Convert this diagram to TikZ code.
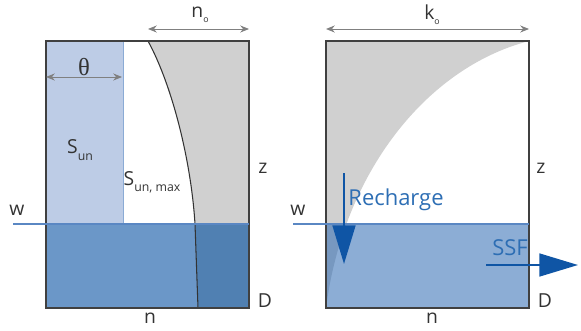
\documentclass[tikz,border=0pt]{standalone}
\usepackage{fontspec}
\setmainfont{Open Sans}
\newfontfamily\greekfont{Liberation Serif}
\usetikzlibrary{arrows.meta,positioning,calc}

\definecolor{soilgray}{RGB}{208,208,208}
\definecolor{unsat}{RGB}{189,204,230}
\definecolor{satlight}{RGB}{107,151,200}
\definecolor{satdark}{RGB}{80,128,178}
\definecolor{wtrans}{RGB}{46,106,179}
\definecolor{wline}{RGB}{90,135,195}
\definecolor{flowblue}{RGB}{15,85,165}
\definecolor{txtblue}{RGB}{45,110,180}

\begin{document}
\begin{tikzpicture}[
  x=0.02cm, y=-0.02cm,
  every node/.style={font=\fontsize{11}{13}\selectfont, text=black!80, inner sep=1pt},
  box/.style={draw=black!75, line width=0.6pt},
  dim/.style={{Stealth[length=5pt,width=4pt]}-{Stealth[length=5pt,width=4pt]}, gray, line width=0.5pt},
  wt/.style={wline, line width=0.6pt},
  flow/.style={-{Triangle[length=22pt,width=13pt]}, flowblue, line width=1.2pt},
  flowlbl/.style={font=\fontsize{12.5}{14}\selectfont, text=txtblue},
]
  \useasboundingbox (0,0) rectangle (581,331);

  % Left column
  \coordinate (ltl) at (46,41);
  \coordinate (ltr) at (249,41);
  \coordinate (lbr) at (249,308);
  \coordinate (lbl) at (46,308);
  \fill[unsat] (46,41) rectangle (123,224);
  \draw[wline!70, line width=0.5pt] (123,41) -- (123,224);
  \fill[soilgray] (148,41) .. controls (172,85) and (191,160) .. (195,224)
    -- (249,224) -- (249,41) -- cycle;
  \fill[satlight] (46,224) rectangle (249,308);
  \fill[satdark] (195,224) -- (198,308) -- (249,308) -- (249,224) -- cycle;
  \draw[black!80, line width=0.6pt] (148,41) .. controls (172,85) and (191,160) .. (195,224)
    -- (198,308);
  \draw[box] (ltl) rectangle (lbr);
  \coordinate (lw) at (13,224);
  \draw[wt] (lw) -- (ltr |- lw);

  % Left labels
  \coordinate (noL) at (148,29);
  \coordinate (noR) at (249,29);
  \draw[dim] (noL) -- (noR);
  \node (no) at (200,15) {n\raisebox{-0.5ex}{\tiny o}};
  \coordinate (thL) at (46,77);
  \coordinate (thR) at (122,77);
  \draw[dim] (thL) -- (thR);
  \node (theta) at (84,67) {\greekfont\fontsize{14}{16}\selectfont θ};
  \node (sun) at (80,150) {S\raisebox{-0.6ex}{\scriptsize un}};
  \node (sunmax) at (152,182) {S\raisebox{-0.6ex}{\scriptsize un, max}};
  \node (wL) at (17,210) {w};
  \node (zL) at (263,168) {z};
  \node (dL) at (265,301) {D};
  \node (nL) at (150,318) {n};

  % Right column
  \coordinate (rtl) at (326,41);
  \coordinate (rtr) at (529,41);
  \coordinate (rbr) at (529,308);
  \coordinate (rbl) at (326,308);
  \fill[soilgray] (rtr) .. controls (425,68) and (343,175) .. (rbl) -- (rtl) -- cycle;
  \fill[wtrans, opacity=0.55] (326,224) rectangle (rbr);
  \draw[box] (rtl) rectangle (rbr);
  \coordinate (rw) at (293,224);
  \draw[wt] (rw) -- (rtr |- rw);

  % Right labels
  \coordinate (koL) at (326,29);
  \coordinate (koR) at (529,29);
  \draw[dim] (koL) -- (koR);
  \node (ko) at (432,15) {k\raisebox{-0.5ex}{\tiny o}};
  \node (wR) at (298,210) {w};
  \node (zR) at (541,168) {z};
  \node (dR) at (545,301) {D};
  \node (nR) at (432,318) {n};

  % Fluxes
  \coordinate (rchS) at (344,173);
  \coordinate (rchE) at (344,264);
  \draw[flow] (rchS) -- (rchE);
  \node[flowlbl] (rch) at (396,200) {Recharge};
  \coordinate (ssfS) at (486,265);
  \coordinate (ssfE) at (578,265);
  \draw[flow] (ssfS) -- (ssfE);
  \node[flowlbl] (ssf) at (510,248) {SSF};
\end{tikzpicture}
\end{document}
